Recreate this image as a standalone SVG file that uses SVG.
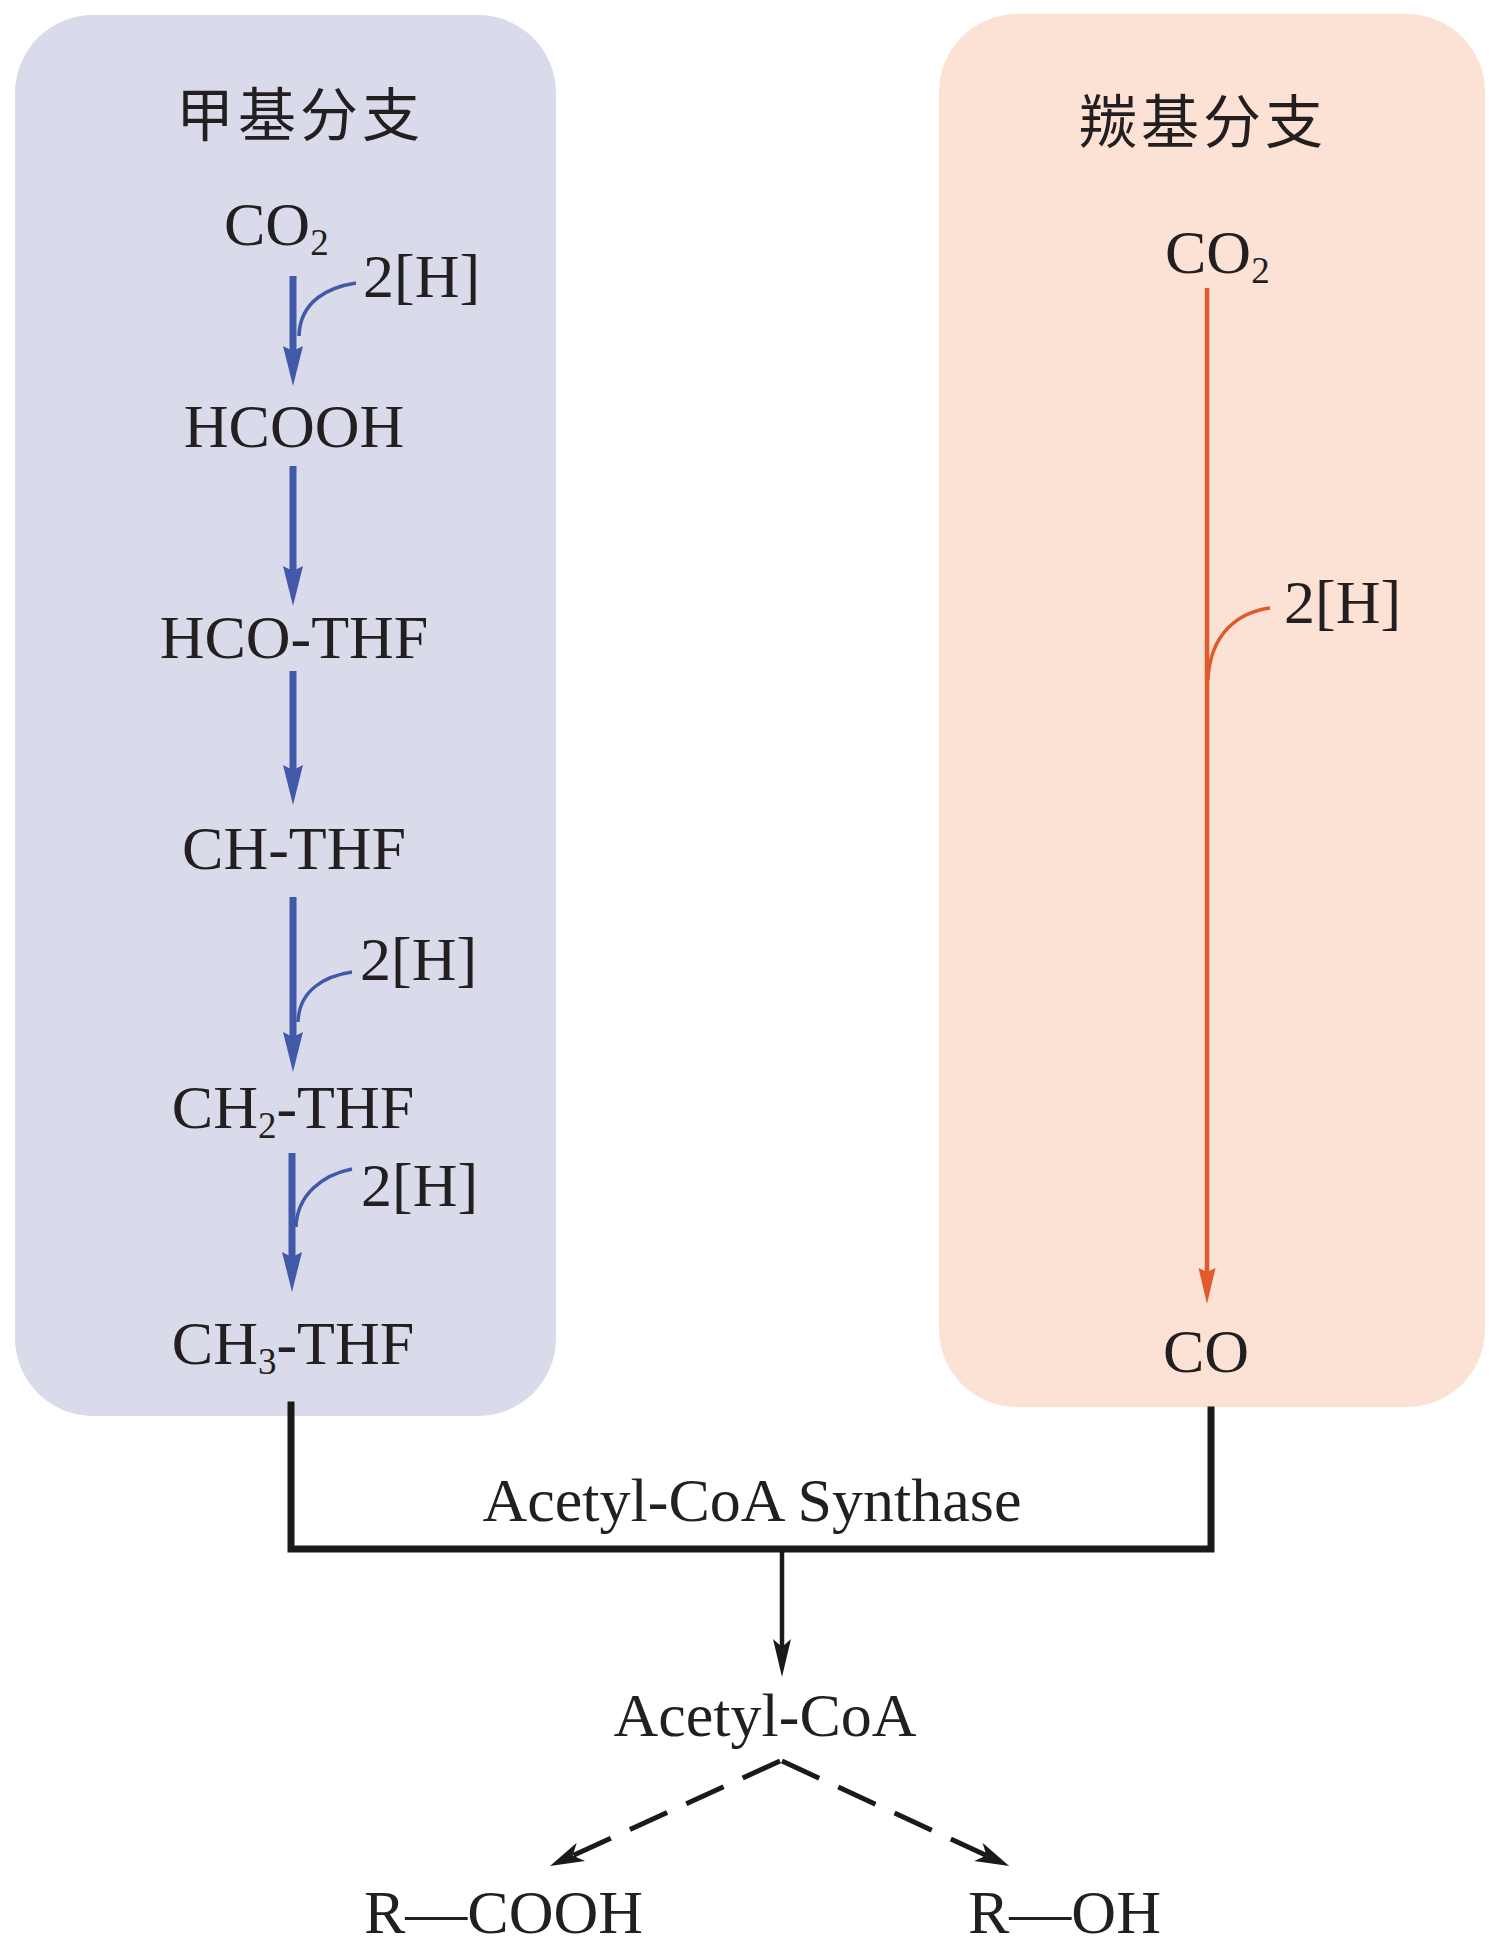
<svg xmlns="http://www.w3.org/2000/svg" width="1499" height="1948" viewBox="0 0 1499 1948">
<style>
.t{font-family:"Liberation Serif","Times New Roman","Noto Sans CJK SC",serif;font-size:62px;fill:#231f20}
.m{text-anchor:middle}
.sub{font-size:37px}
.cjk{font-family:"Noto Sans CJK SC","Noto Sans CJK TC",sans-serif;font-size:58px;fill:#231f20;text-anchor:middle;letter-spacing:4px}
.blue{stroke:#4159a8;stroke-width:7;fill:none;marker-end:url(#hb)}
.bc{stroke:#4159a8;stroke-width:3.5;fill:none}
.org{stroke:#e05a2c;stroke-width:4.5;fill:none}
.blk{stroke:#1a1a1a;stroke-width:7;fill:none;stroke-linejoin:miter;stroke-linecap:square}
.arr{stroke:#1a1a1a;stroke-width:4.5;fill:none}
.dash{stroke:#1a1a1a;stroke-width:5;fill:none;stroke-dasharray:41 21;marker-end:url(#hd)}
</style>
<defs>
<marker id="hb" markerUnits="userSpaceOnUse" viewBox="0 -11 42 22" refX="5" refY="0" markerWidth="42" markerHeight="22" orient="auto" overflow="visible"><path d="M0,-10 L40,0 L0,10 L5,0 z" fill="#4159a8"/></marker>
<marker id="ho" markerUnits="userSpaceOnUse" viewBox="0 -10 38 20" refX="4" refY="0" markerWidth="38" markerHeight="20" orient="auto" overflow="visible"><path d="M0,-8.5 L36,0 L0,8.5 L4,0 z" fill="#e05a2c"/></marker>
<marker id="hk" markerUnits="userSpaceOnUse" viewBox="0 -10 40 20" refX="8" refY="0" markerWidth="40" markerHeight="20" orient="auto" overflow="visible"><path d="M0,-9 L38,0 L0,9 L8,0 z" fill="#1a1a1a"/></marker>
<marker id="hd" markerUnits="userSpaceOnUse" viewBox="0 -11 36 22" refX="9" refY="0" markerWidth="36" markerHeight="22" orient="auto" overflow="visible"><path d="M0,-10 L34,0 L0,10 L9,0 z" fill="#1a1a1a"/></marker>
</defs>

<g id="methyl-branch">
<rect x="15" y="15" width="541" height="1401" rx="78" ry="78" fill="#d9dbeb"/>
<text class="cjk" x="300" y="136">甲基分支</text>
</g>
<g id="carbonyl-branch">
<rect x="939" y="14" width="546" height="1393" rx="78" ry="78" fill="#fbe2d5"/>
<text class="cjk" x="1203" y="143">羰基分支</text>
</g>

<g id="n-co2-left"><text class="t" x="224" y="245">CO<tspan class="sub" dy="10">2</tspan></text></g>
<g id="n-h1"><text class="t" x="363" y="297">2[H]</text></g>
<g id="n-hcooh"><text class="t m" x="294" y="447">HCOOH</text></g>
<g id="n-hco-thf"><text class="t m" x="294" y="658">HCO-THF</text></g>
<g id="n-ch-thf"><text class="t m" x="294" y="869">CH-THF</text></g>
<g id="n-h2"><text class="t" x="360" y="980">2[H]</text></g>
<g id="n-ch2-thf"><text class="t m" x="293" y="1128">CH<tspan class="sub" dy="10">2</tspan><tspan dy="-10">-THF</tspan></text></g>
<g id="n-h3"><text class="t" x="361" y="1206">2[H]</text></g>
<g id="n-ch3-thf"><text class="t m" x="293" y="1364">CH<tspan class="sub" dy="10">3</tspan><tspan dy="-10">-THF</tspan></text></g>

<g id="n-co2-right"><text class="t" x="1165" y="273">CO<tspan class="sub" dy="10">2</tspan></text></g>
<g id="n-h4"><text class="t" x="1284" y="623">2[H]</text></g>
<g id="n-co"><text class="t m" x="1206" y="1372">CO</text></g>

<g id="n-synthase"><text class="t m" x="752" y="1521">Acetyl-CoA Synthase</text></g>
<g id="n-acetyl-coa"><text class="t m" x="765" y="1736">Acetyl-CoA</text></g>
<g id="n-rcooh"><text class="t" x="364" y="1933">R—COOH</text></g>
<g id="n-roh"><text class="t" x="968" y="1933">R—OH</text></g>

<g id="connectors">
<path class="blue" d="M293,276 V351"/>
<path class="bc" d="M356,283 C330,287 300,300 299,336"/>
<path class="blue" d="M293,466 V571"/>
<path class="blue" d="M293,671 V770"/>
<path class="blue" d="M293,897 V1037"/>
<path class="bc" d="M352,972 C325,976 299,990 298,1022"/>
<path class="blue" d="M292,1153 V1257"/>
<path class="bc" d="M352,1169 C322,1175 297,1195 296,1227"/>
<path class="org" d="M1207,288 V1272" marker-end="url(#ho)"/>
<path class="org" style="stroke-width:3.5" d="M1270,608 C1240,612 1210,632 1208,680"/>
<path class="blk" d="M291,1405 V1549 H1211 V1410"/>
<path class="arr" d="M782,1552 V1647" marker-end="url(#hk)"/>
<path class="dash" d="M780,1761 L572.7,1855.6"/>
<path class="dash" d="M782,1761 L986.5,1855.6"/>
</g>
</svg>
